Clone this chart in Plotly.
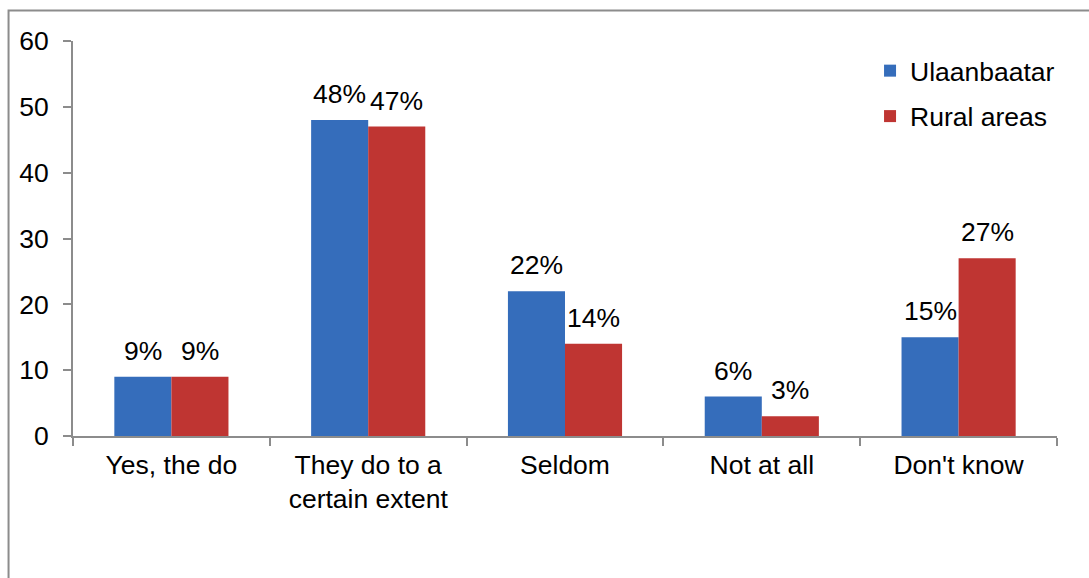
import plotly.graph_objects as go

categories = ["Yes, the do", "They do to a<br>certain extent", "Seldom", "Not at all", "Don't know"]
ulaanbaatar = [9, 48, 22, 6, 15]
rural = [9, 47, 14, 3, 27]
y_ticks = [0, 10, 20, 30, 40, 50, 60]

FONT = "Arial, Liberation Sans, sans-serif"
FS = 26.5

fig = go.Figure()
fig.add_trace(go.Bar(
    x=categories, y=ulaanbaatar, name="Ulaanbaatar",
    marker=dict(color="#356dbb", line=dict(width=0)),
    cliponaxis=False, legendgroup="a", offsetgroup="a",
))
fig.add_trace(go.Bar(
    x=categories, y=rural, name="Rural areas",
    marker=dict(color="#bf3532", line=dict(width=0)),
    cliponaxis=False, legendgroup="b", offsetgroup="b",
))

# data labels, positioned on the data values through the axes
half_bar_px = 28.5
for vals, shift in ((ulaanbaatar, -half_bar_px), (rural, half_bar_px)):
    for c, v in zip(categories, vals):
        fig.add_annotation(x=c, y=v, text=f"{v}%", showarrow=False,
                           xanchor="center", yanchor="bottom",
                           xshift=shift, yshift=9,
                           font=dict(size=FS, color="#000000", family=FONT))

# outer chart border (partially cropped in the reference)
fig.add_shape(type="rect", xref="paper", yref="paper",
              x0=-0.0655, x1=1.2, y0=-0.5, y1=1.0772,
              line=dict(color="#8c8c8c", width=2), layer="below")

fig.update_layout(
    width=1089, height=578,
    margin=dict(l=73, r=32, t=41, b=142),
    paper_bgcolor="white", plot_bgcolor="white",
    barmode="group", bargap=0.42, bargroupgap=0,
    font=dict(family=FONT, size=FS, color="#000000"),
    showlegend=True,
    legend=dict(x=0.81, y=0.985, xanchor="left", yanchor="top",
                font=dict(size=FS, family=FONT), tracegroupgap=8,
                bgcolor="rgba(0,0,0,0)", itemwidth=30),
)
fig.update_xaxes(
    showline=True, linecolor="#8c8c8c", linewidth=2,
    ticks="outside", tickson="boundaries", ticklen=8, tickcolor="#8c8c8c", tickwidth=2,
    tickfont=dict(size=FS, family=FONT), showgrid=False, ticklabelstandoff=4,
    range=[-0.5, 4.5], fixedrange=True,
)
fig.update_yaxes(
    range=[0, 60], tickvals=y_ticks, ticktext=[str(v) for v in y_ticks],
    showline=True, linecolor="#8c8c8c", linewidth=2,
    ticks="outside", ticklen=8, tickcolor="#8c8c8c", tickwidth=2,
    tickfont=dict(size=FS, family=FONT), showgrid=False, zeroline=False,
    ticklabelstandoff=9,
)

fig.write_html("out.html")
